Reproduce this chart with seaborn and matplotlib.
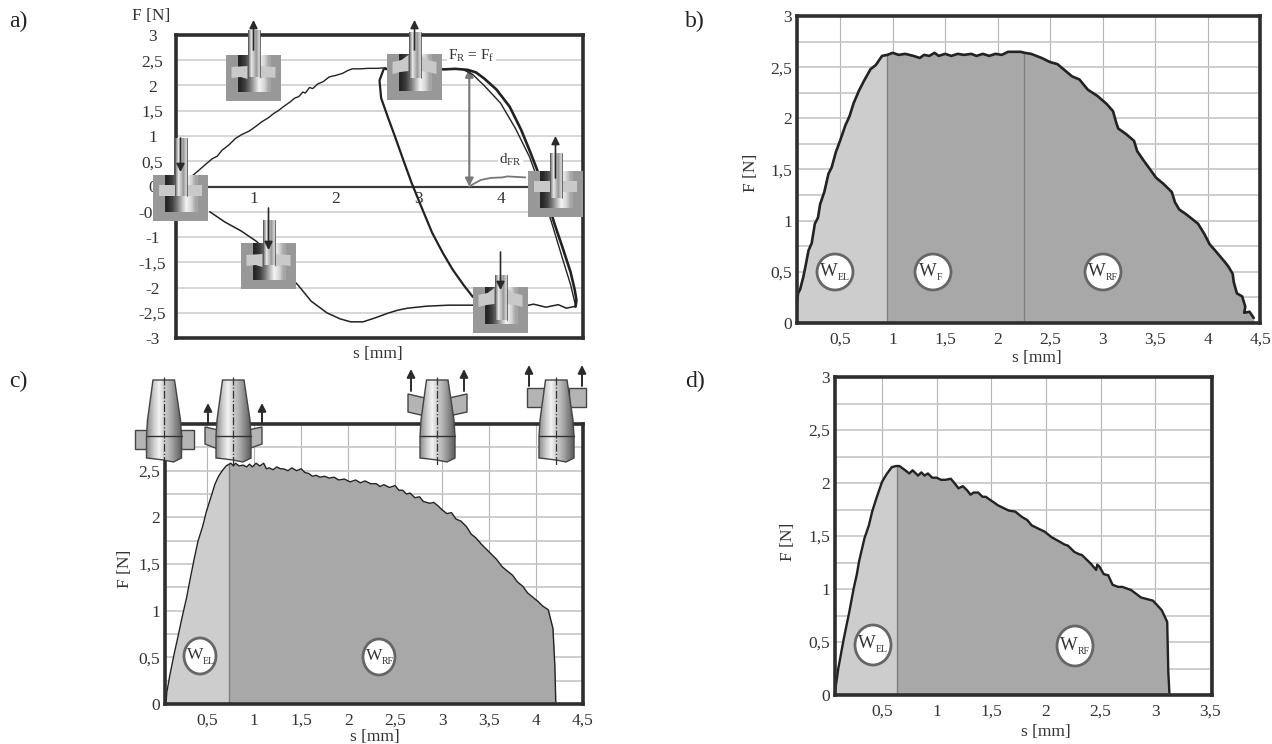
import matplotlib
matplotlib.use('Agg')
import matplotlib.pyplot as plt
import numpy as np
import seaborn as sns
from matplotlib.patches import Ellipse, Polygon, Rectangle

W, H = 1272, 744

# panel a) force/displacement loop
a_up_s = [0.25, 0.33, 0.42, 0.5, 0.56, 0.62, 0.7, 0.78, 0.86, 0.95, 1.02, 1.1, 1.18, 1.25, 1.3, 1.38, 1.45, 1.5, 1.55, 1.6, 1.63, 1.68, 1.72, 1.78, 1.85, 1.92, 2.0, 2.08, 2.15, 2.2, 2.3, 2.4, 2.5, 2.6]
a_up_f = [0.2, 0.31, 0.44, 0.55, 0.6, 0.72, 0.82, 0.95, 1.03, 1.1, 1.18, 1.28, 1.36, 1.45, 1.5, 1.6, 1.68, 1.75, 1.78, 1.87, 1.85, 1.96, 1.94, 2.03, 2.08, 2.17, 2.2, 2.24, 2.3, 2.33, 2.33, 2.34, 2.34, 2.35]
a_outer_s = [2.6, 3.32, 3.45, 3.6, 3.7, 3.8, 3.95, 4.11, 4.25, 4.36, 4.46, 4.56, 4.65, 4.75, 4.85, 4.9, 4.92, 4.91]
a_outer_f = [2.33, 2.32, 2.33, 2.31, 2.26, 2.14, 1.92, 1.58, 1.12, 0.68, 0.26, -0.22, -0.72, -1.2, -1.7, -2.05, -2.25, -2.38]
a_inner_s = [3.55, 3.66, 3.8, 4.0, 4.18, 4.35, 4.46, 4.56, 4.65, 4.75, 4.85, 4.91]
a_inner_f = [2.31, 2.22, 2.0, 1.65, 1.15, 0.59, 0.1, -0.4, -0.88, -1.42, -1.95, -2.36]
a_return_s = [2.58, 2.53, 2.55, 2.63, 2.72, 2.82, 2.92, 3.05, 3.17, 3.3, 3.42, 3.55, 3.66, 3.78, 3.9]
a_return_f = [2.32, 2.1, 1.75, 1.38, 0.98, 0.52, 0.07, -0.45, -0.92, -1.32, -1.65, -1.95, -2.18, -2.3, -2.35]
a_low_s = [0.47, 0.65, 0.85, 1.04, 1.25, 1.54, 1.7, 1.89, 2.05, 2.18, 2.33, 2.48, 2.63, 2.75, 2.87, 3.1, 3.37, 3.66, 3.95, 4.1, 4.25, 4.4, 4.55, 4.7, 4.8, 4.91]
a_low_f = [-0.5, -0.7, -0.88, -1.09, -1.45, -1.95, -2.27, -2.5, -2.62, -2.68, -2.68, -2.6, -2.51, -2.45, -2.41, -2.37, -2.35, -2.35, -2.33, -2.31, -2.38, -2.33, -2.39, -2.34, -2.41, -2.37]
a_d_s = [3.62, 3.68, 3.76, 3.88, 4.02, 4.08, 4.3]
a_d_f = [0.0, 0.06, 0.13, 0.17, 0.18, 0.2, 0.18]

# panel b)
b_s = [0.08, 0.09, 0.1, 0.12, 0.15, 0.17, 0.2, 0.23, 0.26, 0.29, 0.31, 0.35, 0.39, 0.42, 0.46, 0.5, 0.55, 0.59, 0.63, 0.68, 0.73, 0.79, 0.84, 0.9, 0.95, 1.0, 1.06, 1.12, 1.2, 1.26, 1.3, 1.35, 1.4, 1.44, 1.5, 1.56, 1.62, 1.68, 1.75, 1.8, 1.86, 1.92, 1.98, 2.04, 2.1, 2.16, 2.22, 2.26, 2.32, 2.42, 2.5, 2.57, 2.64, 2.71, 2.78, 2.86, 2.95, 3.04, 3.1, 3.13, 3.15, 3.22, 3.3, 3.33, 3.39, 3.44, 3.51, 3.58, 3.66, 3.69, 3.73, 3.8, 3.91, 3.97, 4.02, 4.08, 4.17, 4.2, 4.24, 4.25, 4.28, 4.33, 4.36, 4.35, 4.4, 4.44]
b_f = [0.07, 0.2, 0.29, 0.33, 0.45, 0.55, 0.71, 0.78, 0.97, 1.03, 1.16, 1.28, 1.46, 1.52, 1.67, 1.78, 1.93, 2.02, 2.15, 2.27, 2.37, 2.48, 2.52, 2.61, 2.62, 2.64, 2.62, 2.63, 2.61, 2.59, 2.62, 2.61, 2.64, 2.61, 2.63, 2.61, 2.63, 2.62, 2.63, 2.61, 2.63, 2.61, 2.63, 2.62, 2.65, 2.65, 2.65, 2.64, 2.63, 2.59, 2.55, 2.53, 2.47, 2.41, 2.38, 2.28, 2.22, 2.14, 2.07, 1.96, 1.9, 1.85, 1.78, 1.68, 1.59, 1.52, 1.42, 1.36, 1.28, 1.18, 1.11, 1.06, 0.97, 0.87, 0.77, 0.7, 0.59, 0.55, 0.48, 0.4, 0.29, 0.26, 0.16, 0.1, 0.11, 0.05]
b_split = [0.95, 2.25]

# panel c)
c_s = [0.06, 0.07, 0.1, 0.145, 0.19, 0.23, 0.28, 0.32, 0.36, 0.4, 0.45, 0.49, 0.54, 0.58, 0.62, 0.66, 0.7, 0.75, 0.78, 0.8, 0.84, 0.88, 0.92, 0.95, 0.98, 1.02, 1.06, 1.1, 1.13, 1.16, 1.2, 1.24, 1.28, 1.31, 1.36, 1.4, 1.45, 1.5, 1.54, 1.58, 1.62, 1.66, 1.7, 1.75, 1.8, 1.85, 1.9, 1.96, 2.02, 2.08, 2.13, 2.18, 2.24, 2.3, 2.34, 2.38, 2.44, 2.5, 2.54, 2.58, 2.62, 2.66, 2.71, 2.76, 2.8, 2.87, 2.91, 2.96, 3.0, 3.05, 3.1, 3.15, 3.2, 3.26, 3.31, 3.36, 3.42, 3.48, 3.53, 3.58, 3.64, 3.7, 3.75, 3.8, 3.86, 3.91, 3.97, 4.02, 4.07, 4.13, 4.18, 4.2, 4.21]
c_f = [0.0, 0.13, 0.3, 0.525, 0.73, 0.92, 1.14, 1.35, 1.55, 1.74, 1.9, 2.06, 2.22, 2.35, 2.44, 2.5, 2.55, 2.58, 2.55, 2.58, 2.55, 2.56, 2.54, 2.57, 2.54, 2.58, 2.55, 2.58, 2.52, 2.53, 2.51, 2.54, 2.52, 2.52, 2.5, 2.53, 2.5, 2.52, 2.48, 2.47, 2.44, 2.45, 2.43, 2.44, 2.42, 2.43, 2.4, 2.41, 2.38, 2.4, 2.37, 2.39, 2.36, 2.36, 2.33, 2.35, 2.32, 2.34, 2.29, 2.29, 2.25, 2.26, 2.21, 2.22, 2.17, 2.15, 2.16, 2.12, 2.08, 2.04, 2.05, 1.98, 1.96, 1.9, 1.82, 1.78, 1.71, 1.65, 1.6, 1.55, 1.47, 1.42, 1.38, 1.31, 1.26, 1.19, 1.14, 1.1, 1.05, 1.01, 0.81, 0.42, 0.02]
c_split = [0.73]

# panel d)
d_s = [0.07, 0.1, 0.15, 0.2, 0.24, 0.27, 0.29, 0.34, 0.38, 0.41, 0.45, 0.5, 0.54, 0.59, 0.63, 0.66, 0.7, 0.75, 0.78, 0.8, 0.83, 0.86, 0.89, 0.92, 0.96, 1.0, 1.04, 1.08, 1.13, 1.17, 1.2, 1.24, 1.28, 1.31, 1.34, 1.38, 1.42, 1.45, 1.49, 1.52, 1.56, 1.6, 1.66, 1.72, 1.78, 1.83, 1.87, 1.93, 1.99, 2.05, 2.12, 2.17, 2.2, 2.26, 2.3, 2.33, 2.41, 2.46, 2.47, 2.49, 2.53, 2.57, 2.61, 2.66, 2.7, 2.78, 2.87, 2.98, 3.06, 3.11, 3.12, 3.13]
d_f = [0.03, 0.25, 0.53, 0.78, 1.0, 1.14, 1.26, 1.48, 1.6, 1.73, 1.86, 2.01, 2.08, 2.15, 2.16, 2.16, 2.13, 2.09, 2.12, 2.1, 2.07, 2.1, 2.07, 2.09, 2.05, 2.05, 2.03, 2.03, 2.04, 1.99, 1.95, 1.97, 1.93, 1.89, 1.91, 1.91, 1.87, 1.87, 1.84, 1.82, 1.79, 1.77, 1.74, 1.73, 1.68, 1.65, 1.6, 1.57, 1.54, 1.49, 1.45, 1.42, 1.41, 1.35, 1.33, 1.32, 1.24, 1.18, 1.23, 1.21, 1.14, 1.13, 1.04, 1.02, 1.02, 0.99, 0.92, 0.89, 0.8, 0.69, 0.22, 0.02]
d_split = [0.64]

half_ticks = [0, 0.5, 1, 1.5, 2, 2.5, 3]
half_labels = ['0', '0,5', '1', '1,5', '2', '2,5', '3']
a_yticks = [-3, -2.5, -2, -1.5, -1, -0.5, 0, 0.5, 1, 1.5, 2, 2.5, 3]
a_ylabels = ['-3', '-2,5', '-2', '-1,5', '-1', '-0,5', '0', '0,5', '1', '1,5', '2', '2,5', '3']
a_xticks = [1, 2, 3, 4]
s_ticks_45 = [0.5, 1, 1.5, 2, 2.5, 3, 3.5, 4, 4.5]
s_labels_45 = ['0,5', '1', '1,5', '2', '2,5', '3', '3,5', '4', '4,5']
s_ticks_35 = [0.5, 1, 1.5, 2, 2.5, 3, 3.5]
s_labels_35 = ['0,5', '1', '1,5', '2', '2,5', '3', '3,5']

sns.set_style('white')
plt.rcParams['font.family'] = ['Liberation Serif', 'DejaVu Serif']
plt.rcParams['mathtext.fontset'] = 'custom'
plt.rcParams['mathtext.rm'] = 'Liberation Serif'
plt.rcParams['mathtext.default'] = 'rm'

DARK = '#2e2e2e'
TXT = '#333333'
GRID = '#c6c6c6'
LIGHT = '#cdcdcd'
MID = '#a8a8a8'
FS = 12.5

fig = plt.figure(figsize=(W / 100, H / 100), dpi=100)

# overlay in picture pixels for the sketches and circles
ov = fig.add_axes([0, 0, 1, 1], zorder=10)
ov.set_xlim(0, W)
ov.set_ylim(H, 0)
ov.axis('off')
ov.patch.set_alpha(0)


def make_axes(l, t, r, b, xlim, ylim):
    ax = fig.add_axes([l / W, 1 - b / H, (r - l) / W, (b - t) / H])
    ax.set_xlim(*xlim)
    ax.set_ylim(*ylim)
    for sp in ax.spines.values():
        sp.set_visible(True)
        sp.set_linewidth(2.6)
        sp.set_color(DARK)
        sp.set_zorder(6)
    ax.tick_params(length=0, labelsize=FS, labelcolor=TXT)
    return ax


def area_panel(ax, s, f, splits, s_ticks, s_labels, lw, xlabel_xy, ylabel_xy):
    ax.set_yticks(half_ticks, half_labels)
    ax.set_xticks(s_ticks, s_labels)
    ax.set_yticks([0.25, 0.75, 1.25, 1.75, 2.25, 2.75], minor=True)
    ax.grid(axis='x', color='#b4b4b4', linewidth=0.8)
    ax.grid(axis='y', which='both', color=GRID, linewidth=1.2)
    ax.set_axisbelow(True)
    ax.tick_params(axis='x', pad=15)
    for lab in ax.get_xticklabels():
        lab.set_va('baseline')
    s = np.array(s)
    f = np.array(f)
    # put the split point into the outline so both fills meet there
    cut = splits[0]
    k = np.searchsorted(s, cut)
    s2 = np.insert(s, k, cut)
    f2 = np.insert(f, k, np.interp(cut, s, f))
    ax.fill_between(s2[:k + 1], 0, f2[:k + 1], color=LIGHT, linewidth=0, zorder=2)
    ax.fill_between(s2[k:], 0, f2[k:], color=MID, linewidth=0, zorder=2)
    for x in splits:
        ax.plot([x, x], [0, np.interp(x, s, f)], color='#808080', linewidth=1, zorder=3)
    sns.lineplot(x=s, y=f, ax=ax, color='#222222', linewidth=lw, estimator=None, sort=False, zorder=4)
    ax.set_xlabel('s [mm]', fontsize=FS, color=TXT)
    ax.set_ylabel('F [N]', fontsize=FS, color=TXT)
    ax.xaxis.set_label_coords(*xlabel_xy, transform=ov.transData)
    ax.yaxis.set_label_coords(*ylabel_xy, transform=ov.transData)


def circle(cx, cy, rx, ry, sub, size=13.5):
    ov.add_patch(Ellipse((cx, cy), 2 * rx, 2 * ry, facecolor='white', edgecolor='#666666', linewidth=2))
    off = 3 if len(sub) > 1 else 4
    ov.text(cx + off, cy - 1, 'W', ha='right', va='center', fontsize=size, color=TXT)
    ov.text(cx + off, cy + 5, sub, ha='left', va='center', fontsize=7, color=TXT)


def arrow(x, y0, y1, lw=1.2):
    ov.annotate('', xy=(x, y1), xytext=(x, y0), zorder=9,
                arrowprops=dict(arrowstyle='-|>', color='#2a2a2a', lw=lw, mutation_scale=12, shrinkA=0, shrinkB=0))


def gradient(x0, x1, y0, y1, stops, zorder, clip=None):
    im = ov.imshow(np.array([stops]), extent=(x0, x1, y1, y0), cmap='gray', vmin=0, vmax=1,
                   aspect='auto', interpolation='bilinear', zorder=zorder)
    ov.set_xlim(0, W)
    ov.set_ylim(H, 0)
    if clip is not None:
        im.set_clip_path(clip)
    return im


def die(x0, y0, bend, punch_top, punch_bottom, arrow_from, arrow_to):
    cx = x0 + 27.5
    ov.add_patch(Rectangle((x0, y0), 55, 45.5, facecolor='#989898', edgecolor='none', zorder=3))
    gradient(x0 + 11.5, x0 + 44, y0, y0 + 37, [0.15, 0.25, 0.45, 0.7, 0.95, 0.85, 0.65], 4)
    if bend == 'flat':
        ov.add_patch(Rectangle((cx - 21.5, y0 + 10), 43, 11, facecolor='#c9c9c9', edgecolor='none', zorder=5))
    elif bend == 'down':
        for m in (-1, 1):
            ov.add_patch(Polygon([(cx + m * 22, y0 + 12), (cx + m * 6, y0 + 11), (cx + m * 6, y0 + 24),
                                  (cx + m * 13, y0 + 22), (cx + m * 22, y0 + 23)],
                                 facecolor='#c9c9c9', edgecolor='none', zorder=5))
    else:
        for m in (-1, 1):
            ov.add_patch(Polygon([(cx + m * 22, y0 + 8), (cx + m * 13, y0 + 6), (cx + m * 6, y0 + 1), (cx + m * 6, y0 + 17),
                                  (cx + m * 14, y0 + 18), (cx + m * 22, y0 + 20)],
                                 facecolor='#c9c9c9', edgecolor='none', zorder=5))
    gradient(cx - 6, cx + 6, punch_top, punch_bottom, [0.55, 0.9, 0.75, 0.6, 0.8], 6)
    ov.plot([cx - 6, cx - 6], [punch_top, punch_bottom], color='#555555', lw=0.6, zorder=7)
    ov.plot([cx + 6, cx + 6], [punch_top, punch_bottom], color='#555555', lw=0.6, zorder=7)
    arrow(cx, arrow_from, arrow_to)


def cone(cx, plate):
    outline = [(cx - 10.5, 380), (cx + 11, 380), (cx + 17, 420), (cx + 18, 436), (cx + 18, 458), (cx + 10, 462),
               (cx, 460), (cx - 8, 459), (cx - 17, 458), (cx - 17, 436), (cx - 16, 420)]
    if plate == 'flat_low':
        pieces = [[(cx - 29, 430), (cx - 16, 430), (cx - 16, 449), (cx - 29, 449)],
                  [(cx + 17, 430), (cx + 30, 430), (cx + 30, 449), (cx + 17, 449)]]
    elif plate == 'bent_low':
        pieces = [[(cx - 28, 427), (cx - 15, 430), (cx - 15, 449), (cx - 28, 444)],
                  [(cx + 15, 430), (cx + 29, 427), (cx + 29, 444), (cx + 15, 449)]]
    elif plate == 'bent_high':
        pieces = [[(cx - 29, 394), (cx - 12, 398), (cx - 12, 416), (cx - 29, 412)],
                  [(cx + 12, 398), (cx + 30, 394), (cx + 30, 412), (cx + 12, 416)]]
    else:
        pieces = [[(cx - 29, 388), (cx - 12, 388), (cx - 12, 407), (cx - 29, 407)],
                  [(cx + 13, 388), (cx + 30, 388), (cx + 30, 407), (cx + 13, 407)]]
    for p in pieces:
        ov.add_patch(Polygon(p, facecolor='#b4b4b4', edgecolor='#444444', linewidth=1, zorder=3))
    shape = Polygon(outline, facecolor='none', edgecolor='#444444', linewidth=1, zorder=5)
    ov.add_patch(shape)
    gradient(cx - 18, cx + 19, 380, 463, [0.6, 0.8, 0.95, 0.8, 0.7, 0.55, 0.4], 4, clip=shape)
    ov.plot([cx - 17, cx + 18], [436, 436], color='#333333', lw=1, zorder=6)
    ov.plot([cx, cx], [377, 466], color='#333333', lw=0.9, ls='-.', zorder=6)


# panel a)
ax_a = make_axes(176, 35, 583, 338, (0.06, 5.0), (-3, 3))
ax_a.set_yticks(a_yticks, a_ylabels)
ax_a.set_xticks([])
ax_a.grid(axis='y', color='#cfcfcf', linewidth=1.2)
ax_a.set_axisbelow(True)
ax_a.tick_params(axis='y', pad=13, length=4, width=1.2, color='#cfcfcf')
for lab in ax_a.get_yticklabels():
    lab.set_ha('center')
ax_a.axhline(0, color='#3a3a3a', linewidth=1.6, zorder=2)
for t in a_xticks:
    ax_a.text(t, -0.24, str(t), ha='center', va='center', fontsize=FS, color=TXT)
for xs, ys, lw in [(a_up_s, a_up_f, 1.0), (a_outer_s, a_outer_f, 1.9), (a_inner_s, a_inner_f, 1.0),
                   (a_return_s, a_return_f, 1.6), (a_low_s, a_low_f, 1.1)]:
    sns.lineplot(x=xs, y=ys, ax=ax_a, color='#222222', linewidth=lw, estimator=None, sort=False, zorder=4)
sns.lineplot(x=a_d_s, y=a_d_f, ax=ax_a, color='#777777', linewidth=1.3, estimator=None, sort=False, zorder=4)
ax_a.annotate('', xy=(3.62, 2.33), xytext=(3.62, 0),
              arrowprops=dict(arrowstyle='<|-|>', color='#777777', lw=1.5, mutation_scale=12, shrinkA=0, shrinkB=0))
ax_a.text(3.36, 2.58, r'$F_R$ = $F_f$', fontsize=11, color=TXT, va='center',
          bbox=dict(facecolor='white', edgecolor='none', pad=1))
ax_a.text(3.98, 0.52, r'$d_{FR}$', fontsize=11, color=TXT, va='center',
          bbox=dict(facecolor='white', edgecolor='none', pad=1))
ax_a.set_xlabel('s [mm]', fontsize=FS, color=TXT, visible=True)
ax_a.xaxis.set_label_coords(378, 346, transform=ov.transData)
ov.text(151, 16, 'F [N]', ha='center', va='center', fontsize=FS, color=TXT)

die(153, 175, 'flat', 138, 196, 138, 172)
die(226, 55, 'down', 30, 77, 50, 20)
die(387, 54, 'up', 32, 78, 50, 20)
die(528, 171, 'flat', 153, 198, 178, 136)
die(241, 243, 'down', 220, 265, 208, 250)
die(473, 287, 'up', 275, 320, 252, 290)

# panel b)
ax_b = make_axes(797, 16, 1260, 323, (0.09, 4.5), (0, 3))
area_panel(ax_b, b_s, b_f, b_split, s_ticks_45, s_labels_45, 1.9, (1037, 350), (759, 173))
circle(835, 272, 18, 18, 'EL')
circle(933, 272, 18, 18, 'F')
circle(1103, 272, 18, 18, 'RF')

# panel c)
ax_c = make_axes(165, 424, 583, 704, (0.05, 4.5), (0, 3))
area_panel(ax_c, c_s, c_f, c_split, s_ticks_45, s_labels_45, 1.0, (375, 729), (133, 569))
circle(200, 656, 16, 18, 'EL', 12.5)
circle(379, 657, 16, 18, 'RF', 12.5)

cone(163.5, 'flat_low')
cone(233, 'bent_low')
cone(437, 'bent_high')
cone(556, 'flat_high')
arrow(208, 424, 403, 1.4)
arrow(262, 424, 403, 1.4)
arrow(411, 391, 369, 1.4)
arrow(464, 391, 369, 1.4)
arrow(529, 386, 365, 1.4)
arrow(582, 386, 365, 1.4)

# panel d)
ax_d = make_axes(835, 377, 1212, 695, (0.07, 3.52), (0, 3))
area_panel(ax_d, d_s, d_f, d_split, s_ticks_35, s_labels_35, 1.7, (1046, 724), (796, 542))
circle(873, 645, 18, 20, 'EL')
circle(1075, 646, 18, 20, 'RF')

# panel letters
for x, y, letter in [(18, 21, 'a)'), (695, 21, 'b)'), (18, 381, 'c)'), (695, 381, 'd)')]:
    ov.text(x, y, letter, ha='center', va='center', fontsize=17, color='#222222')

fig.savefig('out.png', dpi=100)
